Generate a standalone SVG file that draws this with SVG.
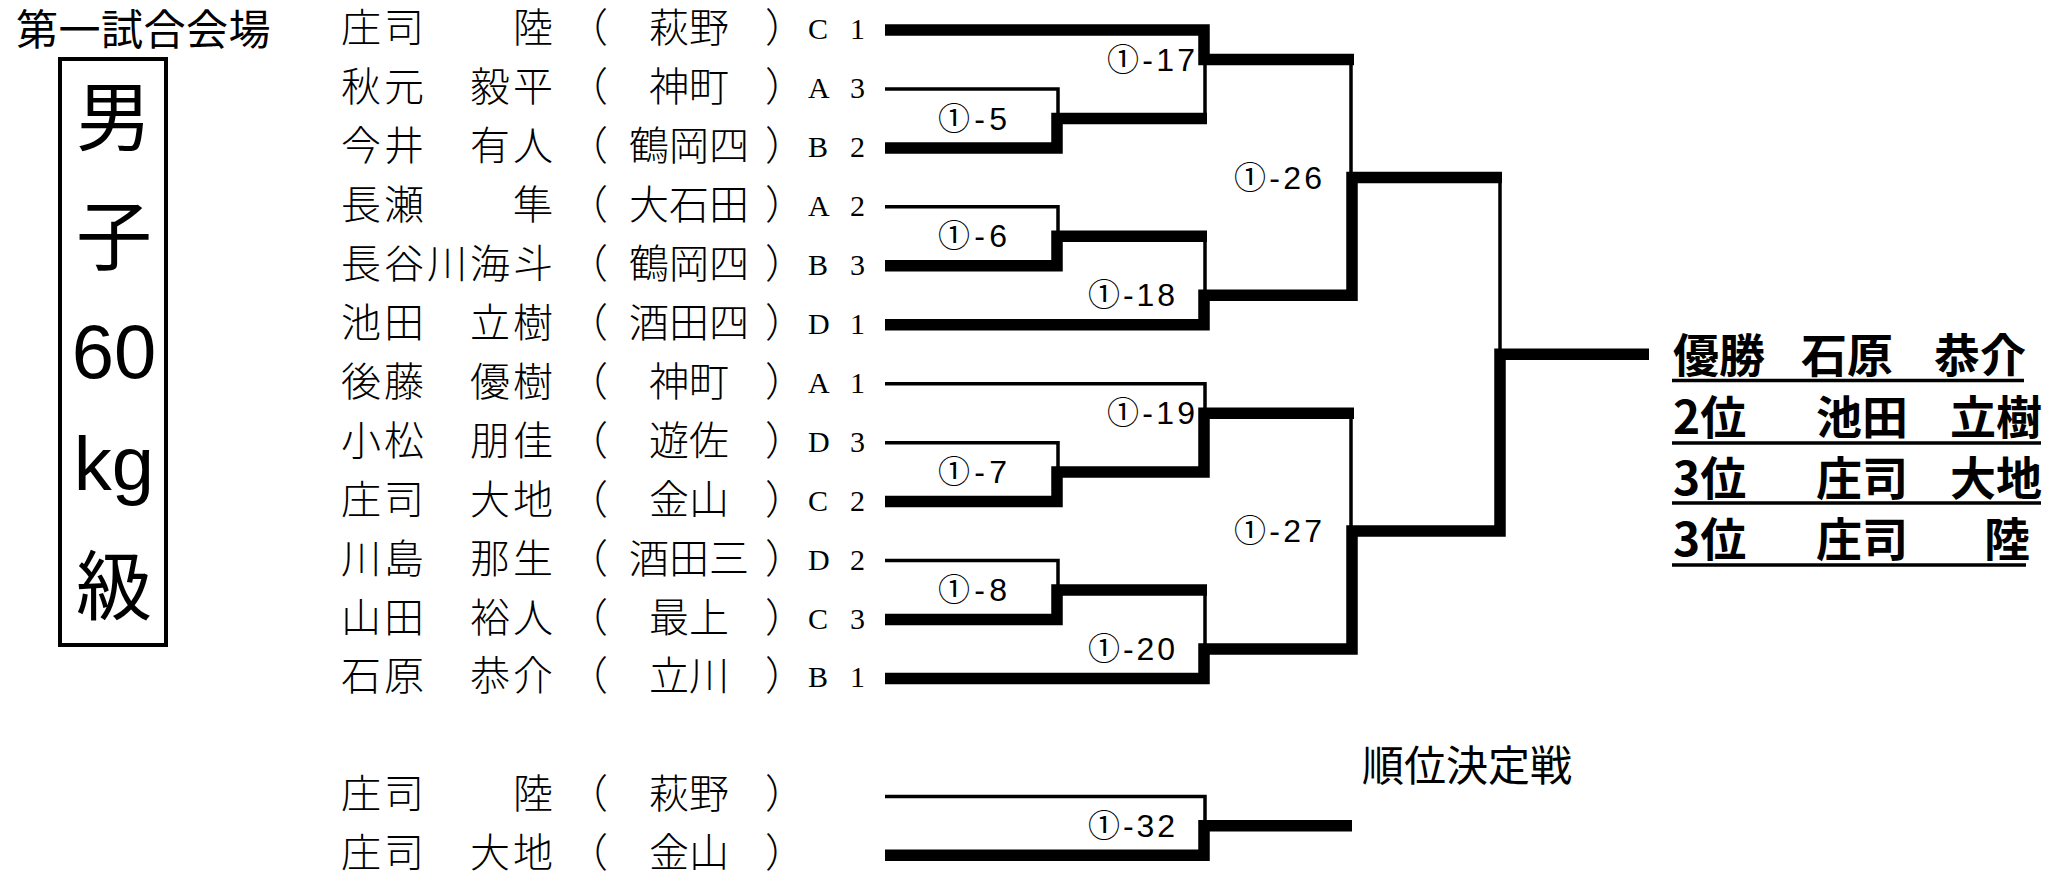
<svg xmlns="http://www.w3.org/2000/svg" width="2048" height="882" viewBox="0 0 2048 882">
<style>
.nm{font-family:"Noto Sans CJK JP","Noto Sans CJK SC",sans-serif;font-size:40px;font-weight:300;fill:#000}
.sc{font-family:"Noto Sans CJK JP","Noto Sans CJK SC",sans-serif;font-size:40px;font-weight:300;fill:#000;text-anchor:middle}
.cd{font-family:"Liberation Serif",serif;font-size:30px;fill:#000}
.lb{font-family:"Liberation Sans","Noto Sans CJK JP",sans-serif;font-size:32px;fill:#000}
.hd{font-family:"Noto Sans CJK JP",sans-serif;font-size:42px;fill:#000}
.big{font-family:"Noto Sans CJK JP",sans-serif;font-size:76px;fill:#000;text-anchor:middle}
.bigl{font-family:"Liberation Sans",sans-serif;font-size:76px;fill:#000;text-anchor:middle}
.rk{font-family:"Noto Sans CJK JP",sans-serif;font-size:46px;font-weight:700;fill:#000}
.tk{fill:none;stroke:#000;stroke-width:11.5;stroke-linejoin:miter;stroke-linecap:butt}
.tn{fill:none;stroke:#000;stroke-width:3.5;stroke-linejoin:miter;stroke-linecap:butt}
.ul{stroke:#000;stroke-width:3.5}
</style>
<rect width="2048" height="882" fill="#fff"/>

<g id="title"><text class="hd" x="16" y="45" letter-spacing="0.5">第一試合会場</text></g>

<g id="weight-class">
<rect x="60" y="59" width="106" height="586" fill="none" stroke="#000" stroke-width="4"/>
<text class="big" x="114" y="145">男</text>
<text class="big" x="114" y="264">子</text>
<text class="bigl" x="114" y="378">60</text>
<text class="bigl" x="114" y="490">kg</text>
<text class="big" x="114" y="614">級</text>
</g>

<g id="p1" transform="translate(0,30)"><text class="nm" x="341 384" y="12">庄司</text><text class="nm" x="513" y="12">陸</text><text class="nm" x="568" y="12">（</text><text class="sc" x="689" y="12">萩野</text><text class="nm" x="765" y="12">）</text><text class="cd" x="808 834 850" y="9">C 1</text></g>
<g id="p2" transform="translate(0,88.95)"><text class="nm" x="341 384" y="12">秋元</text><text class="nm" x="470 513" y="12">毅平</text><text class="nm" x="568" y="12">（</text><text class="sc" x="689" y="12">神町</text><text class="nm" x="765" y="12">）</text><text class="cd" x="808 834 850" y="9">A 3</text></g>
<g id="p3" transform="translate(0,147.9)"><text class="nm" x="341 384" y="12">今井</text><text class="nm" x="470 513" y="12">有人</text><text class="nm" x="568" y="12">（</text><text class="sc" x="689" y="12">鶴岡四</text><text class="nm" x="765" y="12">）</text><text class="cd" x="808 834 850" y="9">B 2</text></g>
<g id="p4" transform="translate(0,206.85)"><text class="nm" x="341 384" y="12">長瀬</text><text class="nm" x="513" y="12">隼</text><text class="nm" x="568" y="12">（</text><text class="sc" x="689" y="12">大石田</text><text class="nm" x="765" y="12">）</text><text class="cd" x="808 834 850" y="9">A 2</text></g>
<g id="p5" transform="translate(0,265.8)"><text class="nm" x="341 384 427 470 513" y="12">長谷川海斗</text><text class="nm" x="568" y="12">（</text><text class="sc" x="689" y="12">鶴岡四</text><text class="nm" x="765" y="12">）</text><text class="cd" x="808 834 850" y="9">B 3</text></g>
<g id="p6" transform="translate(0,324.75)"><text class="nm" x="341 384" y="12">池田</text><text class="nm" x="470 513" y="12">立樹</text><text class="nm" x="568" y="12">（</text><text class="sc" x="689" y="12">酒田四</text><text class="nm" x="765" y="12">）</text><text class="cd" x="808 834 850" y="9">D 1</text></g>
<g id="p7" transform="translate(0,383.7)"><text class="nm" x="341 384" y="12">後藤</text><text class="nm" x="470 513" y="12">優樹</text><text class="nm" x="568" y="12">（</text><text class="sc" x="689" y="12">神町</text><text class="nm" x="765" y="12">）</text><text class="cd" x="808 834 850" y="9">A 1</text></g>
<g id="p8" transform="translate(0,442.65)"><text class="nm" x="341 384" y="12">小松</text><text class="nm" x="470 513" y="12">朋佳</text><text class="nm" x="568" y="12">（</text><text class="sc" x="689" y="12">遊佐</text><text class="nm" x="765" y="12">）</text><text class="cd" x="808 834 850" y="9">D 3</text></g>
<g id="p9" transform="translate(0,501.6)"><text class="nm" x="341 384" y="12">庄司</text><text class="nm" x="470 513" y="12">大地</text><text class="nm" x="568" y="12">（</text><text class="sc" x="689" y="12">金山</text><text class="nm" x="765" y="12">）</text><text class="cd" x="808 834 850" y="9">C 2</text></g>
<g id="p10" transform="translate(0,560.55)"><text class="nm" x="341 384" y="12">川島</text><text class="nm" x="470 513" y="12">那生</text><text class="nm" x="568" y="12">（</text><text class="sc" x="689" y="12">酒田三</text><text class="nm" x="765" y="12">）</text><text class="cd" x="808 834 850" y="9">D 2</text></g>
<g id="p11" transform="translate(0,619.5)"><text class="nm" x="341 384" y="12">山田</text><text class="nm" x="470 513" y="12">裕人</text><text class="nm" x="568" y="12">（</text><text class="sc" x="689" y="12">最上</text><text class="nm" x="765" y="12">）</text><text class="cd" x="808 834 850" y="9">C 3</text></g>
<g id="p12" transform="translate(0,678.45)"><text class="nm" x="341 384" y="12">石原</text><text class="nm" x="470 513" y="12">恭介</text><text class="nm" x="568" y="12">（</text><text class="sc" x="689" y="12">立川</text><text class="nm" x="765" y="12">）</text><text class="cd" x="808 834 850" y="9">B 1</text></g>
<g id="p13" transform="translate(0,796.4)"><text class="nm" x="341 384" y="12">庄司</text><text class="nm" x="513" y="12">陸</text><text class="nm" x="568" y="12">（</text><text class="sc" x="689" y="12">萩野</text><text class="nm" x="765" y="12">）</text></g>
<g id="p14" transform="translate(0,855.3)"><text class="nm" x="341 384" y="12">庄司</text><text class="nm" x="470 513" y="12">大地</text><text class="nm" x="568" y="12">（</text><text class="sc" x="689" y="12">金山</text><text class="nm" x="765" y="12">）</text></g>

<g id="connectors">
<path class="tn" d="M885 88.95H1058V118.4"/>
<path class="tn" d="M885 206.85H1058V236.3"/>
<path class="tn" d="M885 442.65H1058V472.1"/>
<path class="tn" d="M885 560.55H1058V590"/>
<path class="tn" d="M1205 59.5V118.4"/>
<path class="tn" d="M1205 236.3V295.3"/>
<path class="tn" d="M885 383.7H1205V413.2"/>
<path class="tn" d="M1205 590V649"/>
<path class="tn" d="M1351 59.5V177.4"/>
<path class="tn" d="M1351 413.2V531.1"/>
<path class="tn" d="M1500 177.4V354.2"/>
<path class="tn" d="M885 796.4H1205V825.8"/>
<path class="tk" d="M885 147.9H1057V118.4H1207"/>
<path class="tk" d="M885 30H1204V59.5H1354"/>
<path class="tk" d="M885 265.8H1057V236.3H1207"/>
<path class="tk" d="M885 324.75H1204V295.3H1352V177.4H1502"/>
<path class="tk" d="M885 501.6H1057V472.1H1204V413.2H1354"/>
<path class="tk" d="M885 619.5H1057V590H1207"/>
<path class="tk" d="M885 678.45H1204V649H1352V531.1H1500V354.2H1649"/>
<path class="tk" d="M885 855.3H1204V825.8H1352"/>
</g>

<g id="m5"><text class="lb" x="938" y="129.5" textLength="69" lengthAdjust="spacing">①-5</text></g>
<g id="m6"><text class="lb" x="938" y="247" textLength="69" lengthAdjust="spacing">①-6</text></g>
<g id="m7"><text class="lb" x="938" y="483" textLength="69" lengthAdjust="spacing">①-7</text></g>
<g id="m8"><text class="lb" x="938" y="601" textLength="69" lengthAdjust="spacing">①-8</text></g>
<g id="m17"><text class="lb" x="1107" y="70.5" textLength="88" lengthAdjust="spacing">①-17</text></g>
<g id="m18"><text class="lb" x="1088" y="306" textLength="87" lengthAdjust="spacing">①-18</text></g>
<g id="m19"><text class="lb" x="1107" y="424" textLength="88" lengthAdjust="spacing">①-19</text></g>
<g id="m20"><text class="lb" x="1088" y="660" textLength="87" lengthAdjust="spacing">①-20</text></g>
<g id="m26"><text class="lb" x="1234" y="188.5" textLength="88" lengthAdjust="spacing">①-26</text></g>
<g id="m27"><text class="lb" x="1234" y="542" textLength="88" lengthAdjust="spacing">①-27</text></g>
<g id="m32"><text class="lb" x="1088" y="837" textLength="87" lengthAdjust="spacing">①-32</text></g>

<g id="placement-heading"><text class="hd" x="1362" y="781">順位決定戦</text></g>

<g id="results">
<text class="rk" x="1673" y="372">優勝</text><text class="rk" x="1801" y="372">石原</text><text class="rk" x="1934" y="372">恭介</text>
<line class="ul" x1="1672" y1="380.5" x2="2024" y2="380.5"/>
<text class="rk" x="1673" y="434">2位</text><text class="rk" x="1816" y="434">池田</text><text class="rk" x="1950" y="434">立樹</text>
<line class="ul" x1="1672" y1="443" x2="2041" y2="443"/>
<text class="rk" x="1673" y="495">3位</text><text class="rk" x="1816" y="495">庄司</text><text class="rk" x="1950" y="495">大地</text>
<line class="ul" x1="1672" y1="503" x2="2041" y2="503"/>
<text class="rk" x="1673" y="556">3位</text><text class="rk" x="1816" y="556">庄司</text><text class="rk" x="1984" y="556">陸</text>
<line class="ul" x1="1672" y1="565" x2="2026" y2="565"/>
</g>
</svg>
